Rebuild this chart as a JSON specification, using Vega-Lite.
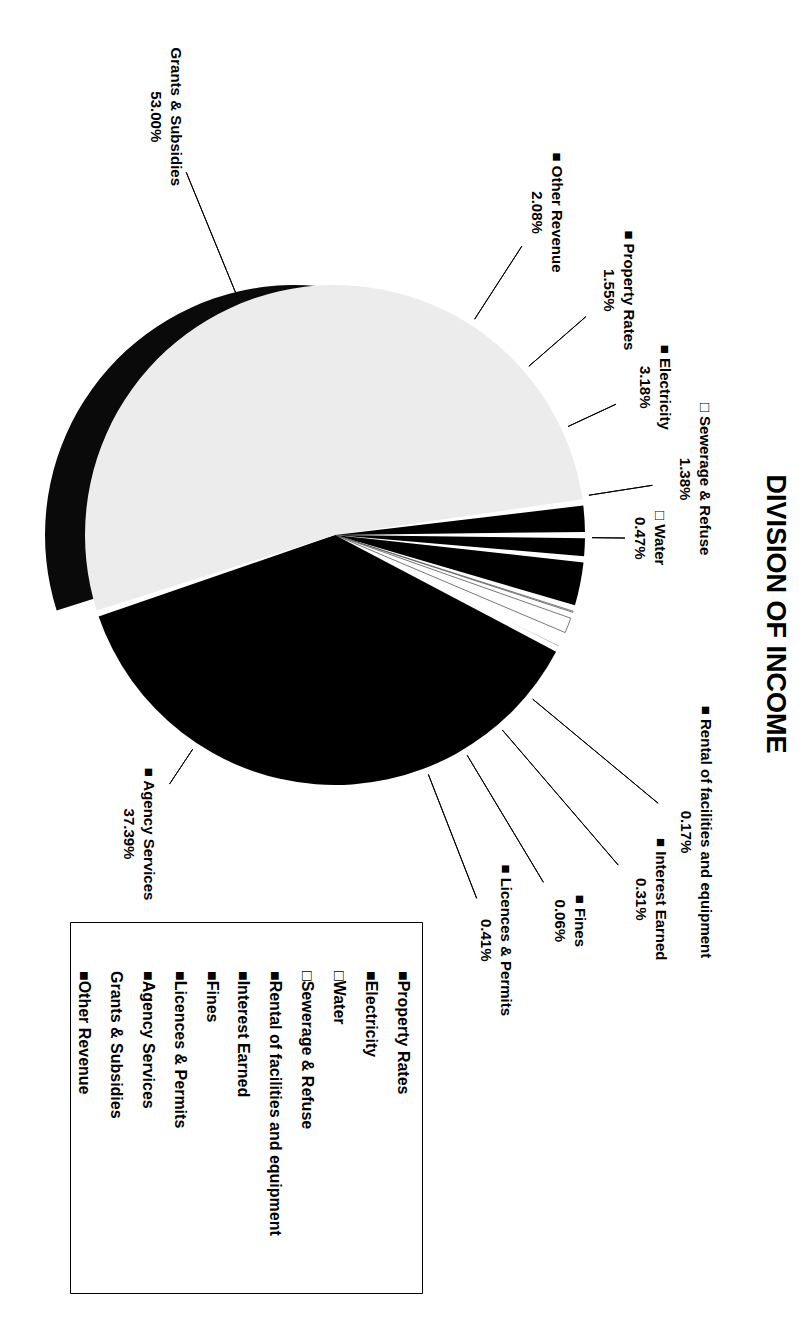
{
  "$schema": "https://vega.github.io/schema/vega-lite/v6.json",
  "padding": {"left": 45, "top": 47, "right": 40, "bottom": 10},
  "background": "white",
  "bounds": "flush",
  "spacing": 0,
  "data": {
    "values": [
      {"category": "Property Rates", "percent": 1.55},
      {"category": "Electricity", "percent": 3.18},
      {"category": "Water", "percent": 0.47},
      {"category": "Sewerage & Refuse", "percent": 1.38},
      {"category": "Rental of facilities and equipment", "percent": 0.17},
      {"category": "Interest Earned", "percent": 0.31},
      {"category": "Fines", "percent": 0.06},
      {"category": "Licences & Permits", "percent": 0.41},
      {"category": "Agency Services", "percent": 37.39},
      {"category": "Grants & Subsidies", "percent": 53.00},
      {"category": "Other Revenue", "percent": 2.08}
    ]
  },
  "transform": [
    {"window": [{"op": "row_number", "as": "idx"}]},
    {"calculate": "(datum.category === 'Water' || datum.category === 'Sewerage & Refuse' ? '□ ' : datum.category === 'Grants & Subsidies' ? '' : '■ ') + datum.category + '\\n' + format(datum.percent, '.2f') + '%'", "as": "lbl"},
    {"calculate": "(datum.category === 'Water' || datum.category === 'Sewerage & Refuse' ? '□' : datum.category === 'Grants & Subsidies' ? '\u00a0\u00a0\u00a0' : '■') + datum.category", "as": "leg"}
  ],
  "vconcat": [
    {
      "width": 530,
      "height": 774,
      "view": {"stroke": null},
      "title": {
        "text": "DIVISION OF INCOME",
        "orient": "right",
        "anchor": "middle",
        "frame": "group",
        "font": "Liberation Sans",
        "fontSize": 27,
        "fontWeight": "bold",
        "color": "#000000",
        "offset": 48,
        "dx": 79
      },
      "layer": [
        {
          "mark": {"type": "arc", "radius": 250, "padAngle": 0.025, "xOffset": -40, "fill": "#0a0a0a"},
          "encoding": {
            "theta": {"field": "percent", "type": "quantitative", "stack": true, "scale": {"range": [1.5708, 7.854]}},
            "order": {"field": "idx", "type": "quantitative"},
            "fillOpacity": {"condition": {"test": "datum.category === 'Grants & Subsidies'", "value": 1}, "value": 0}
          }
        },
        {
          "mark": {"type": "arc", "radius": 250, "padAngle": 0.025, "strokeWidth": 0.8},
          "encoding": {
            "theta": {"field": "percent", "type": "quantitative", "stack": true, "scale": {"range": [1.5708, 7.854]}},
            "order": {"field": "idx", "type": "quantitative"},
            "color": {
              "field": "category",
              "type": "nominal",
              "legend": null,
              "scale": {
                "domain": ["Property Rates", "Electricity", "Water", "Sewerage & Refuse", "Rental of facilities and equipment", "Interest Earned", "Fines", "Licences & Permits", "Agency Services", "Grants & Subsidies", "Other Revenue"],
                "range": ["#000000", "#000000", "#ffffff", "#ffffff", "#000000", "#000000", "#000000", "#000000", "#000000", "#ececec", "#000000"]
              }
            },
            "stroke": {"condition": {"test": "datum.category === 'Water' || datum.category === 'Sewerage & Refuse'", "value": "#555555"}, "value": null}
          }
        },
        {
          "transform": [{"filter": {"field": "category", "oneOf": ["Other Revenue", "Property Rates", "Electricity", "Sewerage & Refuse"]}}],
          "encoding": {
            "theta": {"field": "category", "type": "nominal", "scale": {"type": "point", "domain": ["Other Revenue", "Property Rates", "Electricity", "Sewerage & Refuse"], "range": [0.5742, 1.4155], "padding": 0}},
            "radius": {"field": "category", "type": "nominal", "scale": {"type": "point", "domain": ["Electricity", "Sewerage & Refuse", "Property Rates", "Other Revenue"], "range": [350, 384], "padding": 0}}
          },
          "layer": [
            {
              "mark": {"type": "arc", "radiusOffset": -40, "stroke": "#000000", "strokeWidth": 1, "fill": "transparent"},
              "encoding": {"theta2": {"field": "category"}, "radius2": {"value": 257}}
            },
            {
              "mark": {"type": "text", "angle": 90, "align": "center", "baseline": "middle", "dy": -13, "font": "Liberation Sans", "fontSize": 15, "fontWeight": "bold", "lineHeight": 20, "lineBreak": "\n", "color": "#000000"},
              "encoding": {"text": {"field": "lbl"}}
            }
          ]
        },
        {
          "transform": [{"filter": {"field": "category", "equal": "Water"}}],
          "encoding": {
            "theta": {"field": "category", "type": "nominal", "scale": {"type": "point", "domain": ["Water"], "range": [1.5813, 1.5813], "padding": 0}},
            "radius": {"field": "category", "type": "nominal", "scale": {"type": "point", "domain": ["Water"], "range": [312, 312], "padding": 0}}
          },
          "layer": [
            {
              "mark": {"type": "arc", "radiusOffset": -22, "stroke": "#000000", "strokeWidth": 1, "fill": "transparent"},
              "encoding": {"theta2": {"field": "category"}, "radius2": {"value": 257}}
            },
            {
              "mark": {"type": "text", "angle": 90, "align": "center", "baseline": "middle", "dy": -13, "font": "Liberation Sans", "fontSize": 15, "fontWeight": "bold", "lineHeight": 20, "lineBreak": "\n", "color": "#000000"},
              "encoding": {"text": {"field": "lbl"}}
            }
          ]
        },
        {
          "transform": [{"filter": {"field": "category", "oneOf": ["Rental of facilities and equipment", "Interest Earned", "Fines", "Licences & Permits"]}}],
          "encoding": {
            "theta": {"field": "category", "type": "nominal", "scale": {"type": "point", "domain": ["Rental of facilities and equipment", "Interest Earned", "Fines", "Licences & Permits"], "range": [2.2637, 2.7698], "padding": 0}},
            "radius": {"field": "category", "type": "nominal", "scale": {"type": "point", "domain": ["Licences & Permits", "Fines", "Rental of facilities and equipment", "Interest Earned"], "range": [435, 480], "padding": 0}}
          },
          "layer": [
            {
              "mark": {"type": "arc", "radiusOffset": -45, "stroke": "#000000", "strokeWidth": 1, "fill": "transparent"},
              "encoding": {"theta2": {"field": "category"}, "radius2": {"value": 257}}
            },
            {
              "mark": {"type": "text", "angle": 90, "align": "center", "baseline": "middle", "dy": -13, "font": "Liberation Sans", "fontSize": 15, "fontWeight": "bold", "lineHeight": 20, "lineBreak": "\n", "color": "#000000"},
              "encoding": {"text": {"field": "lbl"}}
            }
          ]
        },
        {
          "transform": [{"filter": {"field": "category", "oneOf": ["Agency Services", "Grants & Subsidies"]}}],
          "encoding": {
            "theta": {"field": "category", "type": "nominal", "scale": {"type": "point", "domain": ["Agency Services", "Grants & Subsidies"], "range": [3.728, 5.894], "padding": 0}},
            "radius": {"field": "category", "type": "nominal", "scale": {"type": "point", "domain": ["Agency Services", "Grants & Subsidies"], "range": [359, 452], "padding": 0}}
          },
          "layer": [
            {
              "mark": {"type": "arc", "radiusOffset": -60, "stroke": "#000000", "strokeWidth": 1, "fill": "transparent"},
              "encoding": {"theta2": {"field": "category"}, "radius2": {"value": 257}}
            },
            {
              "mark": {"type": "text", "angle": 90, "align": "center", "baseline": "middle", "dy": -13, "font": "Liberation Sans", "fontSize": 15, "fontWeight": "bold", "lineHeight": 20, "lineBreak": "\n", "color": "#000000"},
              "encoding": {"text": {"field": "lbl"}}
            }
          ]
        }
      ],
      "resolve": {"scale": {"theta": "independent", "radius": "independent", "color": "independent"}}
    },
    {
      "width": 352,
      "height": 371,
      "view": {"stroke": "#000000", "strokeWidth": 1},
      "mark": {"type": "text", "angle": 90, "align": "left", "baseline": "middle", "dx": -136.5, "font": "Liberation Sans", "fontSize": 16, "fontWeight": "bold", "color": "#000000"},
      "encoding": {
        "x": {
          "field": "category",
          "type": "nominal",
          "axis": null,
          "scale": {
            "type": "point",
            "domain": ["Other Revenue", "Grants & Subsidies", "Agency Services", "Licences & Permits", "Fines", "Interest Earned", "Rental of facilities and equipment", "Sewerage & Refuse", "Water", "Electricity", "Property Rates"],
            "padding": 0.516,
            "align": 0.424
          }
        },
        "text": {"field": "leg"}
      }
    }
  ],
  "config": {"view": {"stroke": null}, "font": "Liberation Sans"}
}
